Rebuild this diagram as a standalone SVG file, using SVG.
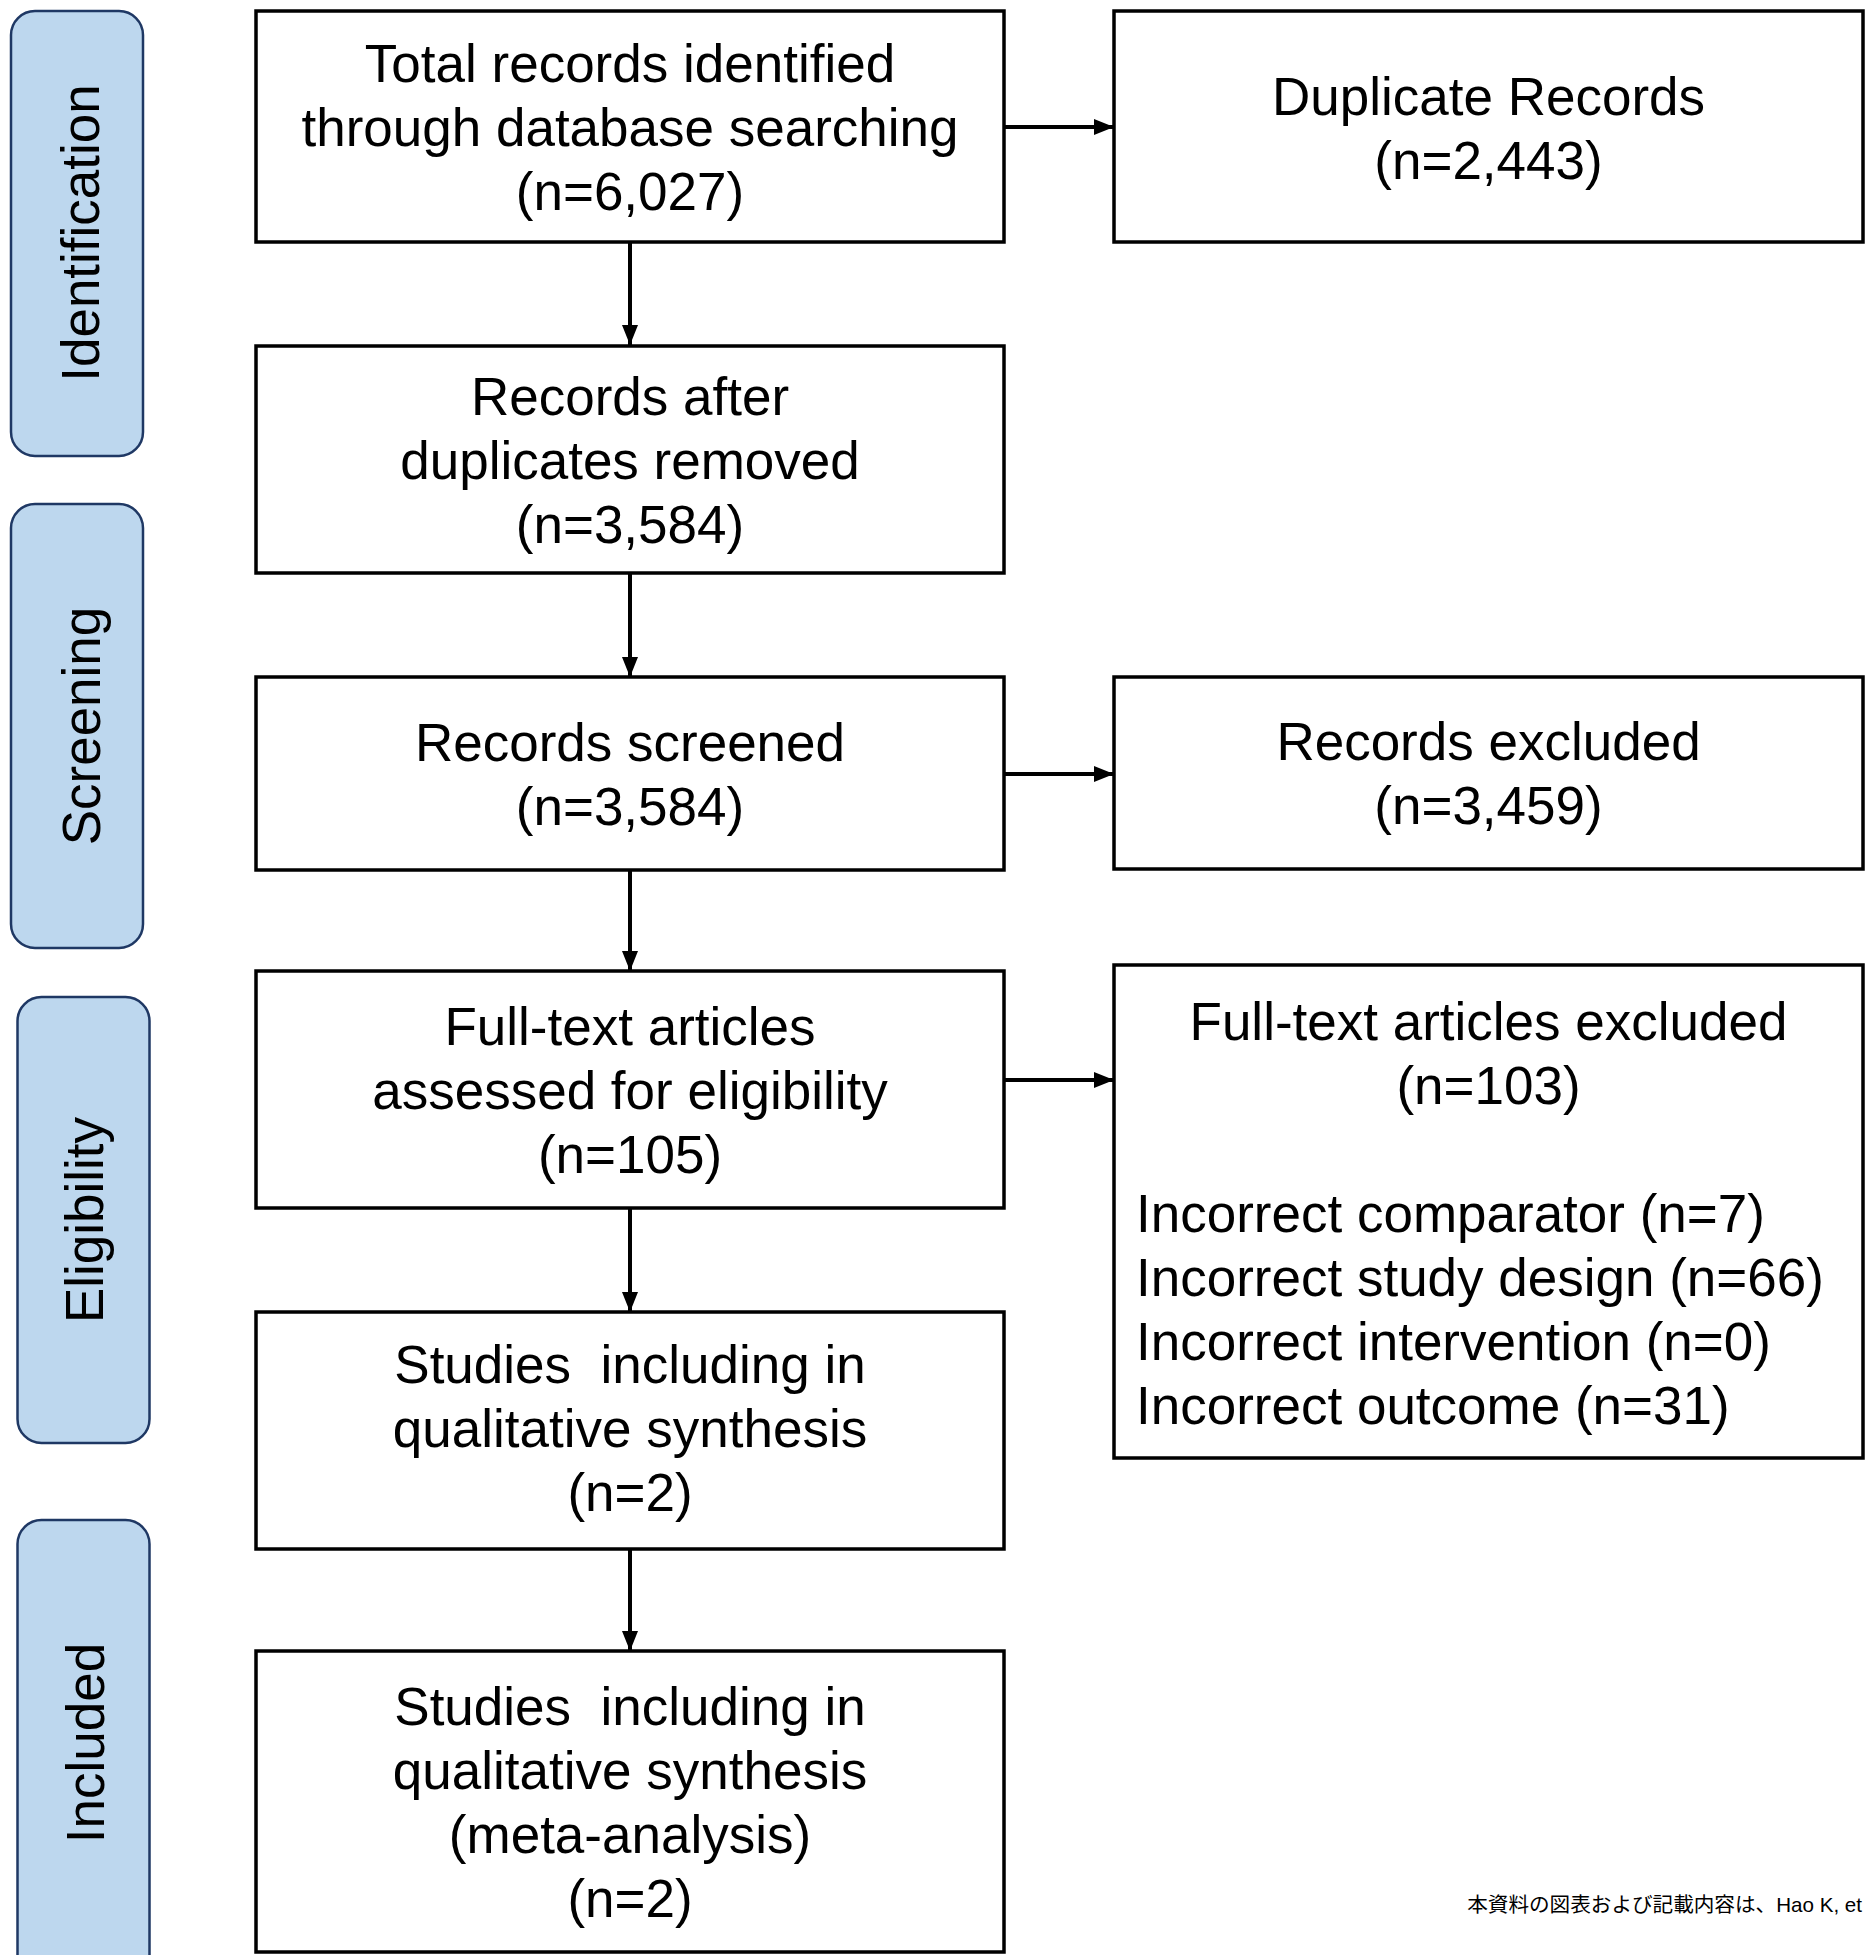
<svg xmlns="http://www.w3.org/2000/svg" width="1868" height="1955" viewBox="0 0 1868 1955">
<style>
.box{fill:#fff;stroke:#000;stroke-width:3.5}
.lane{fill:#bdd7ee;stroke:#1f3864;stroke-width:2.5}
.t{font-family:"Liberation Sans",Arial,sans-serif;font-size:53px;fill:#000;text-anchor:middle}
.tl{font-family:"Liberation Sans",Arial,sans-serif;font-size:53px;fill:#000;text-anchor:start}
.lt{font-family:"Liberation Sans",Arial,sans-serif;font-size:53px;fill:#000;text-anchor:middle}
.con{stroke:#000;stroke-width:4;fill:none;marker-end:url(#ah)}
.note{font-family:"Liberation Sans","Noto Sans CJK JP",sans-serif;font-size:20.6px;fill:#000;text-anchor:end}
</style>
<defs>
<marker id="ah" markerUnits="userSpaceOnUse" markerWidth="20" markerHeight="16" refX="20" refY="8" orient="auto">
<path d="M0,0 L20,8 L0,16 z" fill="#000"/>
</marker>
</defs>
<rect width="1868" height="1955" fill="#fff"/>

<g id="lane-identification">
<rect class="lane" x="11" y="11" width="132" height="445" rx="24"/>
<text class="lt" transform="translate(99,233) rotate(-90)">Identification</text>
</g>
<g id="lane-screening">
<rect class="lane" x="11" y="504" width="132" height="444" rx="24"/>
<text class="lt" transform="translate(100,726) rotate(-90)">Screening</text>
</g>
<g id="lane-eligibility">
<rect class="lane" x="17.5" y="997" width="132" height="446" rx="24"/>
<text class="lt" transform="translate(103,1220) rotate(-90)">Eligibility</text>
</g>
<g id="lane-included">
<rect class="lane" x="17.5" y="1520" width="132" height="480" rx="24"/>
<text class="lt" transform="translate(104,1743) rotate(-90)">Included</text>
</g>

<g id="connectors">
<line class="con" x1="630" y1="243" x2="630" y2="345"/>
<line class="con" x1="630" y1="573" x2="630" y2="677"/>
<line class="con" x1="630" y1="870" x2="630" y2="971"/>
<line class="con" x1="630" y1="1208" x2="630" y2="1312"/>
<line class="con" x1="630" y1="1549" x2="630" y2="1651"/>
<line class="con" x1="1004" y1="127" x2="1114" y2="127"/>
<line class="con" x1="1004" y1="774" x2="1114" y2="774"/>
<line class="con" x1="1004" y1="1080" x2="1114" y2="1080"/>
</g>

<g id="n-total">
<rect class="box" x="256" y="11" width="748" height="231"/>
<text class="t" x="630" y="82">Total records identified</text>
<text class="t" x="630" y="146">through database searching</text>
<text class="t" x="630" y="210">(n=6,027)</text>
</g>
<g id="n-duplicate">
<rect class="box" x="1114" y="11" width="749" height="231"/>
<text class="t" x="1488.5" y="115">Duplicate Records</text>
<text class="t" x="1488.5" y="179">(n=2,443)</text>
</g>
<g id="n-after">
<rect class="box" x="256" y="346" width="748" height="227"/>
<text class="t" x="630" y="415">Records after</text>
<text class="t" x="630" y="479">duplicates removed</text>
<text class="t" x="630" y="543">(n=3,584)</text>
</g>
<g id="n-screened">
<rect class="box" x="256" y="677" width="748" height="193"/>
<text class="t" x="630" y="761">Records screened</text>
<text class="t" x="630" y="825">(n=3,584)</text>
</g>
<g id="n-excluded">
<rect class="box" x="1114" y="677" width="749" height="192"/>
<text class="t" x="1488.5" y="760">Records excluded</text>
<text class="t" x="1488.5" y="824">(n=3,459)</text>
</g>
<g id="n-fulltext">
<rect class="box" x="256" y="971" width="748" height="237"/>
<text class="t" x="630" y="1045">Full-text articles</text>
<text class="t" x="630" y="1109">assessed for eligibility</text>
<text class="t" x="630" y="1173">(n=105)</text>
</g>
<g id="n-ft-excluded">
<rect class="box" x="1114" y="965" width="749" height="493"/>
<text class="t" x="1488.5" y="1040">Full-text articles excluded</text>
<text class="t" x="1488.5" y="1104">(n=103)</text>
<text class="tl" x="1136" y="1232">Incorrect comparator (n=7)</text>
<text class="tl" x="1136" y="1296">Incorrect study design (n=66)</text>
<text class="tl" x="1136" y="1360">Incorrect intervention (n=0)</text>
<text class="tl" x="1136" y="1424">Incorrect outcome (n=31)</text>
</g>
<g id="n-qualitative">
<rect class="box" x="256" y="1312" width="748" height="237"/>
<text class="t" x="630" y="1383" xml:space="preserve">Studies  including in</text>
<text class="t" x="630" y="1447">qualitative synthesis</text>
<text class="t" x="630" y="1511">(n=2)</text>
</g>
<g id="n-meta">
<rect class="box" x="256" y="1651" width="748" height="301"/>
<text class="t" x="630" y="1725" xml:space="preserve">Studies  including in</text>
<text class="t" x="630" y="1789">qualitative synthesis</text>
<text class="t" x="630" y="1853">(meta-analysis)</text>
<text class="t" x="630" y="1917">(n=2)</text>
</g>

<text class="note" x="1862" y="1912">本資料の図表および記載内容は、Hao K, et</text>
</svg>
